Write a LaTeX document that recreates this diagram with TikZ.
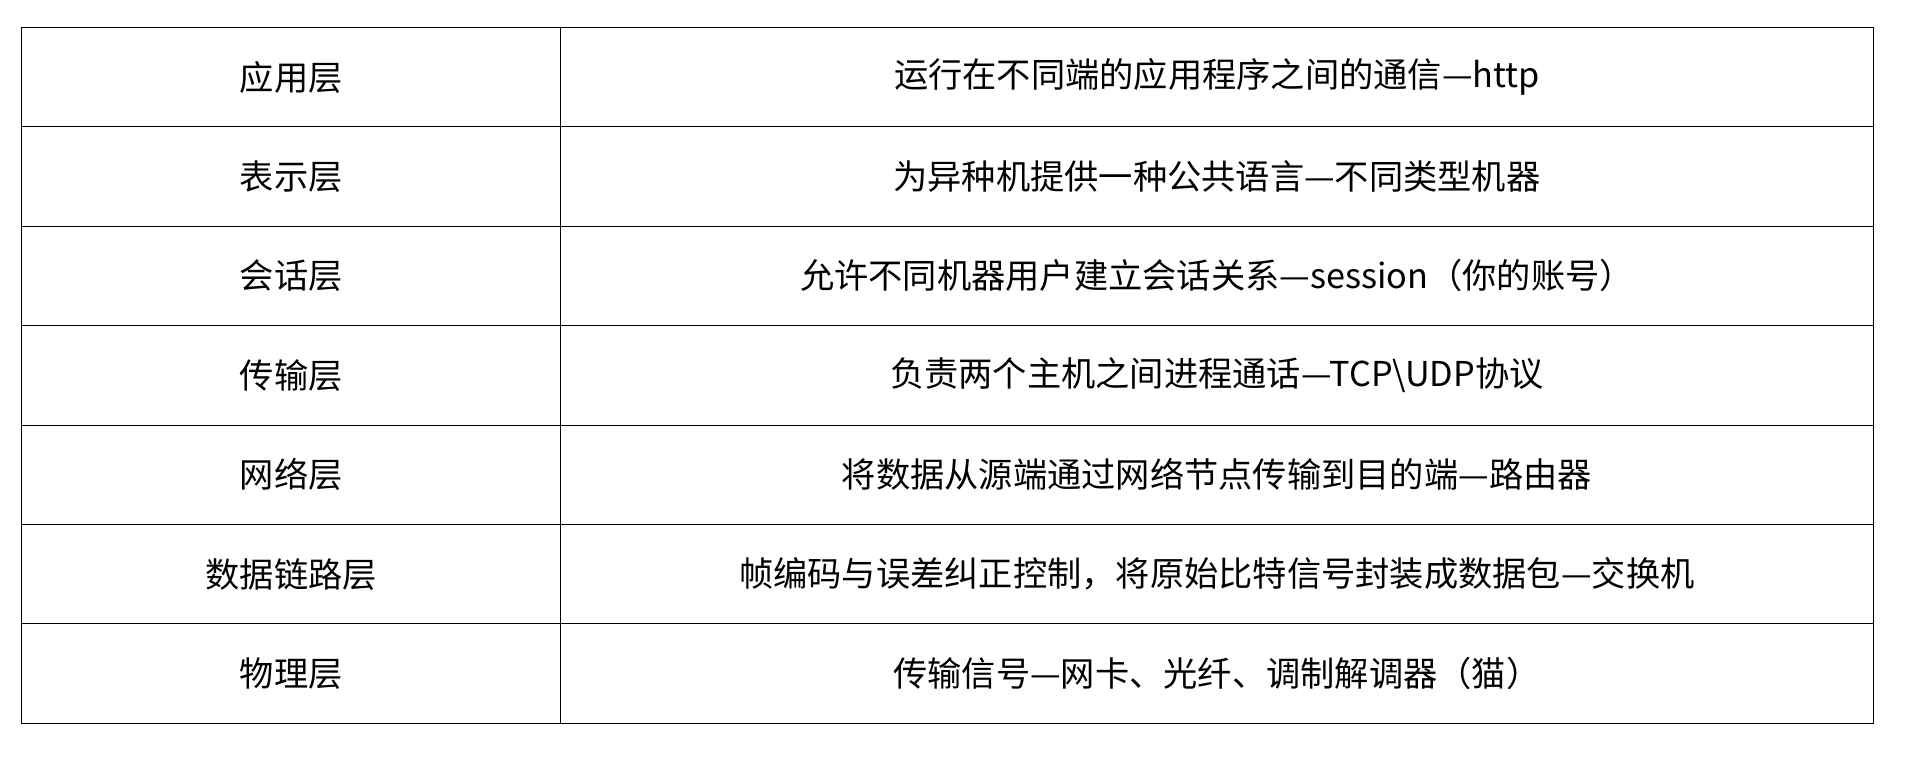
\documentclass[tikz,border=0pt]{standalone}
\usepackage{fontspec}
\setmainfont{Noto Sans CJK SC}
\begin{document}
\begin{tikzpicture}[x=0.05cm,y=-0.05cm,
  cell/.style={font=\fontsize{40pt}{46pt}\selectfont, anchor=center, inner sep=0pt}]
\useasboundingbox (0,0) rectangle (1568,640.3);
\def\T{22.5}\def\R{81.6}
\draw[line width=1pt] (18,22.5) rectangle (1538,593.5);
\draw[line width=1pt] (460,22.5) -- (460,593.5);
\foreach \i in {1,...,6} \draw[line width=1pt] (18,{\T+\i*\R}) -- (1538,{\T+\i*\R});
\foreach \a/\b [count=\i from 0] in {
  应用层/{运行在不同端的应用程序之间的通信—http},
  表示层/{为异种机提供一种公共语言—不同类型机器},
  会话层/{允许不同机器用户建立会话关系—session（你的账号）},
  传输层/{负责两个主机之间进程通话—TCP\textbackslash UDP协议},
  网络层/{将数据从源端通过网络节点传输到目的端—路由器},
  数据链路层/{帧编码与误差纠正控制，将原始比特信号封装成数据包—交换机},
  物理层/{传输信号—网卡、光纤、调制解调器（猫）}}
{
  \node[cell] (l\i) at (239,{\T+(\i+0.5)*\R}) {\a};
  \node[cell] (r\i) at (999,{\T+(\i+0.5)*\R}) {\b};
}
\end{tikzpicture}
\end{document}
